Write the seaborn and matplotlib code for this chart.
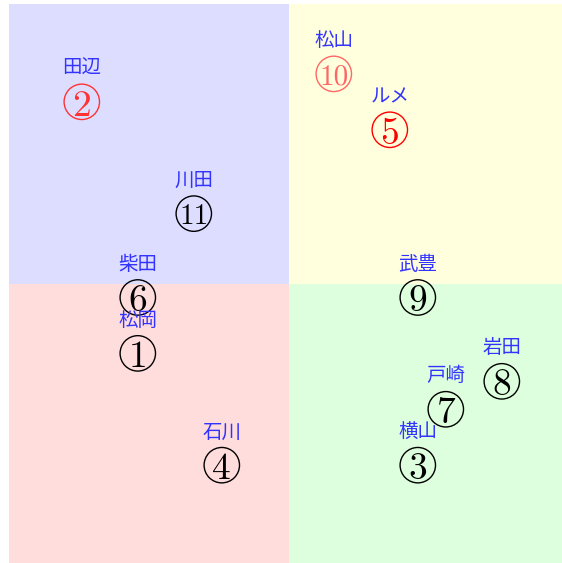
import matplotlib
matplotlib.use("Agg")
import matplotlib.pyplot as plt
import seaborn as sns
import pandas as pd

# データ（番号・名前・座標・色）
numeros = [1, 2, 3, 4, 5, 6, 7, 8, 9, 10, 11]
noms = ["松岡", "田辺", "横山", "石川", "ルメ", "柴田", "戸崎", "岩田", "武豊", "松山", "川田"]
x_vals = [-5.4, -7.4, 4.6, -2.4, 3.6, -5.4, 5.6, 7.6, 4.6, 1.6, -3.4]
y_vals = [-2.5, 6.5, -6.5, -6.5, 5.5, -0.5, -4.5, -3.5, -0.5, 7.5, 2.5]
couleurs = ["black", "#ff3333", "black", "black", "#ff0000", "black",
            "black", "black", "black", "#ff6666", "black"]

df = pd.DataFrame({"num": numeros, "nom": noms, "x": x_vals, "y": y_vals, "c": couleurs})

sns.set_style("white")
plt.rcParams["font.family"] = ["Noto Sans CJK JP", "DejaVu Sans"]

fig = plt.figure(figsize=(5.62, 5.63), dpi=100)
ax = fig.add_axes([9 / 562, 0, 553 / 562, 559 / 563])
xmin, xmax, ymin, ymax = -10, 9.75, -10, 10

# 四象限の背景
ax.fill_between([xmin, 0], 0, ymax, color="#ddddff", lw=0, zorder=0)
ax.fill_between([0, xmax], 0, ymax, color="#ffffdd", lw=0, zorder=0)
ax.fill_between([xmin, 0], ymin, 0, color="#ffdddd", lw=0, zorder=0)
ax.fill_between([0, xmax], ymin, 0, color="#ddffdd", lw=0, zorder=0)

# 丸印
sns.scatterplot(data=df, x="x", y="y", s=650, marker="o", facecolor="none",
                edgecolor=df["c"].tolist(), linewidth=1.0, ax=ax, zorder=3)

for _, r in df.iterrows():
    taille = 27 if r["num"] < 10 else 21
    ax.annotate(str(r["num"]), (r["x"], r["y"]), xytext=(0, -0.5), textcoords="offset points",
                ha="center", va="center_baseline", fontsize=taille, family="cmr10",
                color=r["c"], zorder=4)
    ax.annotate(r["nom"], (r["x"], r["y"]), xytext=(0, 24), textcoords="offset points",
                ha="center", va="center", fontsize=14, color="#3333ff", zorder=5)

ax.set_xlim(xmin, xmax)
ax.set_ylim(ymin, ymax)
ax.set_axis_off()

fig.savefig("out.png", dpi=100)
